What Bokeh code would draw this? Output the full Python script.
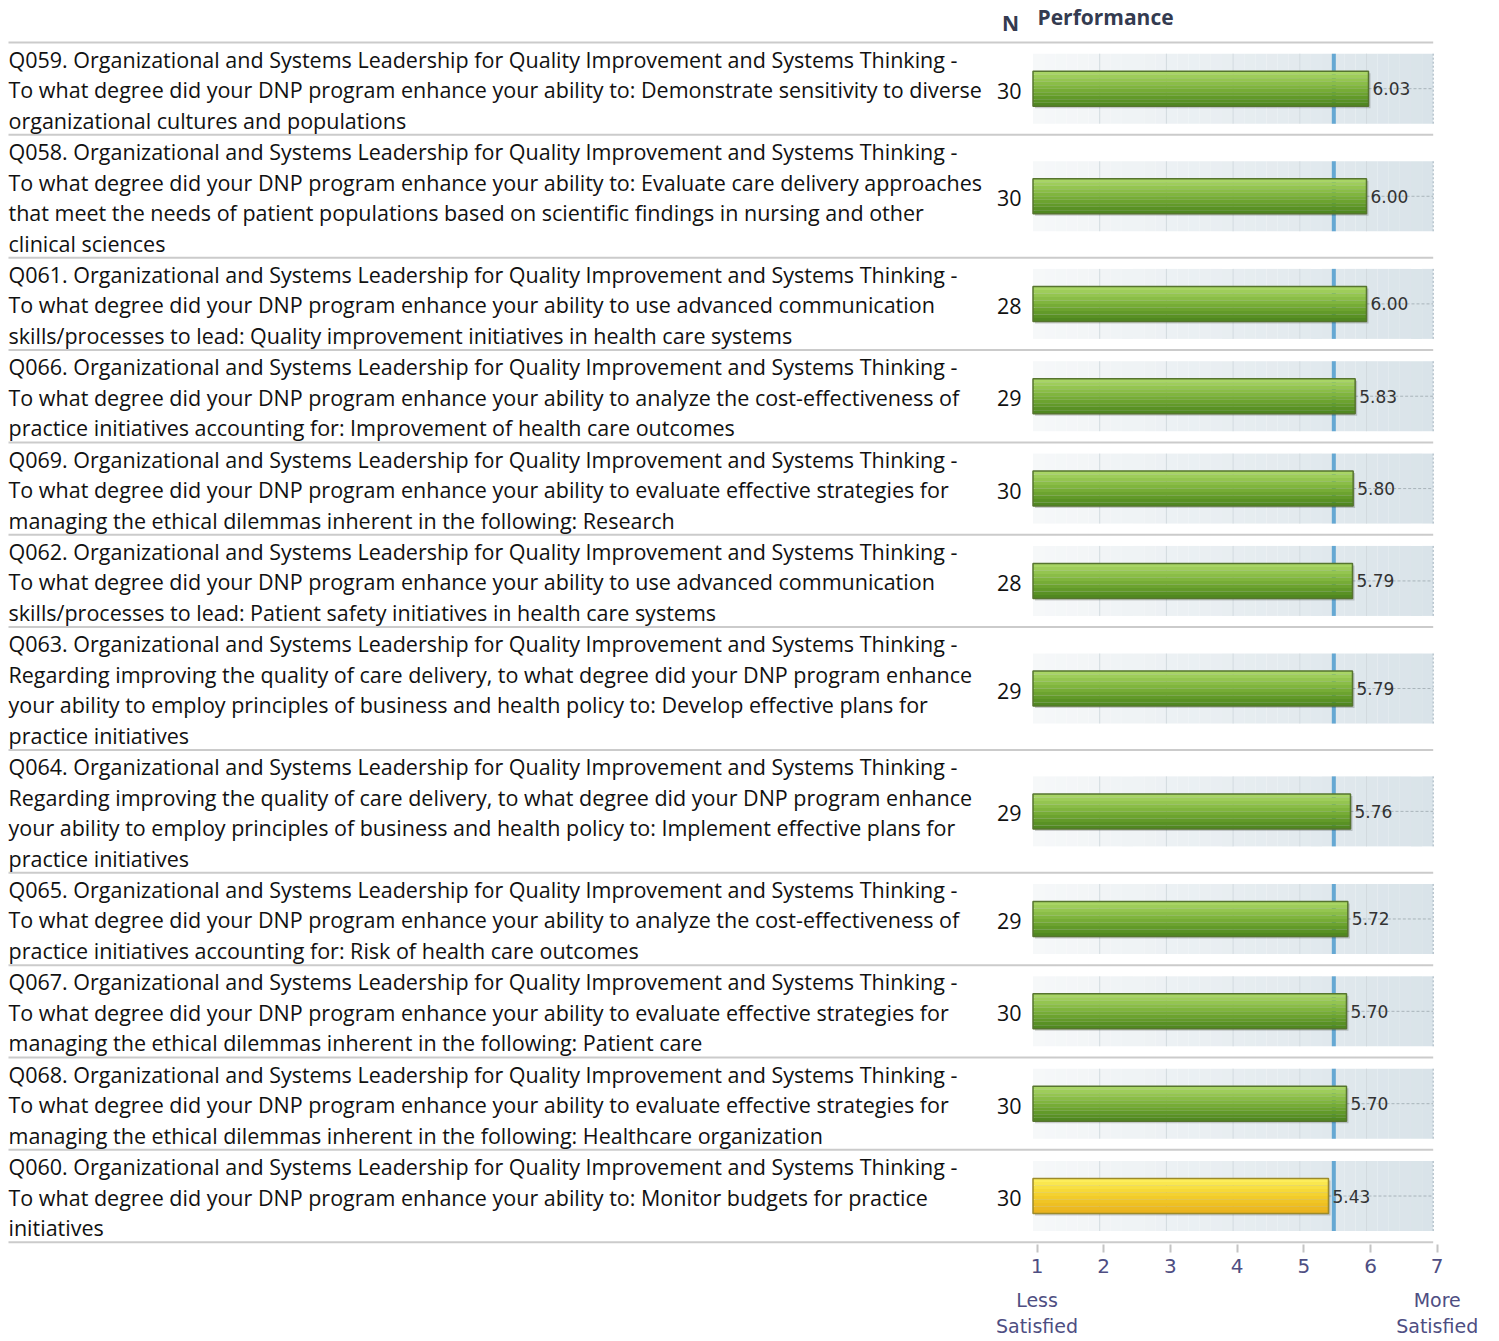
import numpy as np
from bokeh.plotting import figure
from bokeh.models import Range1d, LinearAxis, FixedTicker
from bokeh.core.properties import value
from bokeh.embed import file_html
from bokeh.resources import INLINE

# ---------------- data ----------------
HEAD = "Organizational and Systems Leadership for Quality Improvement and Systems Thinking -"
question_lines = [
    ["Q059. " + HEAD,
     "To what degree did your DNP program enhance your ability to: Demonstrate sensitivity to diverse",
     "organizational cultures and populations"],
    ["Q058. " + HEAD,
     "To what degree did your DNP program enhance your ability to: Evaluate care delivery approaches",
     "that meet the needs of patient populations based on scientific findings in nursing and other",
     "clinical sciences"],
    ["Q061. " + HEAD,
     "To what degree did your DNP program enhance your ability to use advanced communication",
     "skills/processes to lead: Quality improvement initiatives in health care systems"],
    ["Q066. " + HEAD,
     "To what degree did your DNP program enhance your ability to analyze the cost-effectiveness of",
     "practice initiatives accounting for: Improvement of health care outcomes"],
    ["Q069. " + HEAD,
     "To what degree did your DNP program enhance your ability to evaluate effective strategies for",
     "managing the ethical dilemmas inherent in the following: Research"],
    ["Q062. " + HEAD,
     "To what degree did your DNP program enhance your ability to use advanced communication",
     "skills/processes to lead: Patient safety initiatives in health care systems"],
    ["Q063. " + HEAD,
     "Regarding improving the quality of care delivery, to what degree did your DNP program enhance",
     "your ability to employ principles of business and health policy to: Develop effective plans for",
     "practice initiatives"],
    ["Q064. " + HEAD,
     "Regarding improving the quality of care delivery, to what degree did your DNP program enhance",
     "your ability to employ principles of business and health policy to: Implement effective plans for",
     "practice initiatives"],
    ["Q065. " + HEAD,
     "To what degree did your DNP program enhance your ability to analyze the cost-effectiveness of",
     "practice initiatives accounting for: Risk of health care outcomes"],
    ["Q067. " + HEAD,
     "To what degree did your DNP program enhance your ability to evaluate effective strategies for",
     "managing the ethical dilemmas inherent in the following: Patient care"],
    ["Q068. " + HEAD,
     "To what degree did your DNP program enhance your ability to evaluate effective strategies for",
     "managing the ethical dilemmas inherent in the following: Healthcare organization"],
    ["Q060. " + HEAD,
     "To what degree did your DNP program enhance your ability to: Monitor budgets for practice",
     "initiatives"],
]
n_values = [30, 30, 28, 29, 30, 28, 29, 29, 29, 30, 30, 30]
scores = [6.03, 6.00, 6.00, 5.83, 5.80, 5.79, 5.79, 5.76, 5.72, 5.70, 5.70, 5.43]
benchmark = 5.51
ticks = [1, 2, 3, 4, 5, 6, 7]
end_labels = {1: "Less\nSatisfied", 7: "More\nSatisfied"}
col_n = "N"
col_perf = "Performance"

# ---------------- layout (page pixels) ----------------
W, H = 1499, 1341
PAGE_LEFT, PAGE_TOP = 0, 0
FRAME_BOTTOM = 1244
X1_PX, UNIT_PX = 1032.5, 66.7
AXIS_SHIFT = 4
smin, smax = ticks[0], ticks[-1]
LABEL_FONT = "21.5px"


def px2x(px):
    return smin + (px - X1_PX) / UNIT_PX


LINE_H, PAD = 30.5, 0.85
TOP0 = 42
row_tops, row_centers = [], []
t = TOP0
for lines in question_lines:
    h = len(lines) * LINE_H + PAD
    row_tops.append(t)
    row_centers.append(t + h / 2)
    t += h
row_tops.append(t)

p = figure(width=W, height=H, output_backend="svg", toolbar_location=None,
           x_axis_type=None, y_axis_type=None,
           x_range=Range1d(px2x(PAGE_LEFT), px2x(PAGE_LEFT + W)),
           y_range=Range1d(FRAME_BOTTOM, PAGE_TOP),
           min_border_left=0, min_border_right=0, min_border_top=0,
           min_border_bottom=H - (FRAME_BOTTOM - PAGE_TOP))
p.extra_x_ranges = {"axis": Range1d(px2x(PAGE_LEFT - AXIS_SHIFT), px2x(PAGE_LEFT + W - AXIS_SHIFT))}
p.outline_line_color = None
p.background_fill_color = "white"
p.border_fill_color = "white"

# separators
p.segment(x0=px2x(8), x1=smax, y0=row_tops, y1=row_tops, line_color="#cbcbcb", line_width=2)

# labels
lx, ly, lt = [], [], []
for lines, top in zip(question_lines, row_tops):
    for i, s in enumerate(lines):
        lx.append(px2x(8))
        ly.append(top + PAD / 2 + LINE_H * (i + 0.5) + 1)
        lt.append(s)
p.text(x=lx, y=ly, text=lt, text_font=value("Open Sans"), text_font_size=LABEL_FONT,
       text_color="#111111", text_baseline="middle", text_align="left")

# N column
p.text(x=[px2x(1021)] * len(n_values), y=[c + 2 for c in row_centers], text=[str(n) for n in n_values],
       text_font=value("Open Sans"), text_font_size=LABEL_FONT, text_color="#111111",
       text_baseline="middle", text_align="right")

# headers
p.text(x=[px2x(1010)], y=[22], text=[col_n], text_font=value("Open Sans"), text_font_size="21px",
       text_font_style="bold", text_color="#343b50", text_baseline="middle", text_align="center")
p.text(x=[px2x(1037)], y=[16], text=[col_perf], text_font=value("Open Sans"), text_font_size="21px",
       text_font_style="bold", text_color="#343b50", text_baseline="middle", text_align="left")

# panel backgrounds (horizontal gradient)
PH = 35
NS = 36
c0 = np.array([0xf6, 0xf8, 0xf9]); c1 = np.array([0xd9, 0xe3, 0xe9])
edges = np.linspace(smin, smax, NS + 1)
ql, qr, qt, qb, qc = [], [], [], [], []
for c in row_centers:
    for k in range(NS):
        f = k / (NS - 1)
        col = c0 + (c1 - c0) * f
        ql.append(edges[k]); qr.append(edges[k + 1]); qt.append(c - PH); qb.append(c + PH)
        qc.append("#%02x%02x%02x" % tuple(int(round(v)) for v in col))
p.quad(left=ql, right=qr, top=qt, bottom=qb, fill_color=qc, line_color=None)

# grid lines
gx, gy0, gy1 = [], [], []
for c in row_centers:
    for tk in ticks[1:-1]:
        gx.append(tk); gy0.append(c - PH); gy1.append(c + PH)
p.segment(x0=gx, x1=gx, y0=gy0, y1=gy1, line_color="#d2dadf", line_width=1)
p.segment(x0=[smax] * len(row_centers), x1=[smax] * len(row_centers),
          y0=[c - PH for c in row_centers], y1=[c + PH for c in row_centers],
          line_color="#9fb0bb", line_width=1, line_dash="2 2")

# benchmark line
p.segment(x0=[benchmark] * len(row_centers), x1=[benchmark] * len(row_centers),
          y0=[c - PH for c in row_centers], y1=[c + PH for c in row_centers],
          line_color="#65a8d3", line_width=4)

# dashed line from bar end to right edge
p.segment(x0=scores, x1=[smax] * len(scores), y0=row_centers, y1=row_centers,
          line_color="#a9b4ba", line_width=1, line_dash="3 2")

# bars
BH = 17.5
green = ["#a8d565", "#9ecd5a", "#94c550", "#8abd47", "#80b53e", "#76ac36", "#6ca32f",
         "#629a29", "#599124", "#508820"]
yellow = ["#fced5c", "#fae74e", "#f8e042", "#f6d938", "#f4d230", "#f2cb2a", "#f0c525",
          "#eebf22", "#ecb920", "#eab31e"]
# shadow
p.quad(left=[smin + 2 / UNIT_PX] * len(scores), right=[s + 2 / UNIT_PX for s in scores],
       top=[c - BH + 2 for c in row_centers], bottom=[c + BH + 2 for c in row_centers],
       fill_color="black", fill_alpha=0.18, line_color=None)
S = len(green)
bl, br, bt, bb, bc = [], [], [], [], []
for sc, c in zip(scores, row_centers):
    pal = green if sc >= benchmark else yellow
    for k in range(S):
        bl.append(smin); br.append(sc)
        bt.append(c - BH + 2 * BH * k / S); bb.append(c - BH + 2 * BH * (k + 1) / S)
        bc.append(pal[k])
p.quad(left=bl, right=br, top=bt, bottom=bb, fill_color=bc, line_color=None)
p.quad(left=[smin] * len(scores), right=scores,
       top=[c - BH for c in row_centers], bottom=[c + BH for c in row_centers],
       fill_color=None,
       line_color=["#56742f" if s >= benchmark else "#9c8a2a" for s in scores], line_width=1.5)

# value labels
p.text(x=[s + 4 / UNIT_PX for s in scores], y=row_centers, text=["%.2f" % s for s in scores],
       text_font=value("DejaVu Sans"), text_font_size="17px", text_color="#333333",
       text_baseline="middle", text_align="left")

# axes
ax1 = LinearAxis(x_range_name="axis", ticker=FixedTicker(ticks=ticks), axis_line_color=None,
                 major_tick_line_color="#c4c4c4", major_tick_line_width=2,
                 major_tick_in=0, major_tick_out=8, minor_tick_line_color=None,
                 major_label_standoff=6, major_label_text_font="DejaVu Sans",
                 major_label_text_font_size="20px", major_label_text_color="#4e4e82")
p.add_layout(ax1, "below")
ax2 = LinearAxis(x_range_name="axis", ticker=FixedTicker(ticks=[smin, smax]),
                 major_label_overrides=end_labels,
                 axis_line_color=None, major_tick_line_color=None, major_tick_in=0,
                 major_tick_out=0, minor_tick_line_color=None, major_label_standoff=13,
                 major_label_text_font="DejaVu Sans", major_label_text_font_size="19px",
                 major_label_text_color="#4e4e82")
p.add_layout(ax2, "below")

open("out.html", "w").write(file_html(p, INLINE))
